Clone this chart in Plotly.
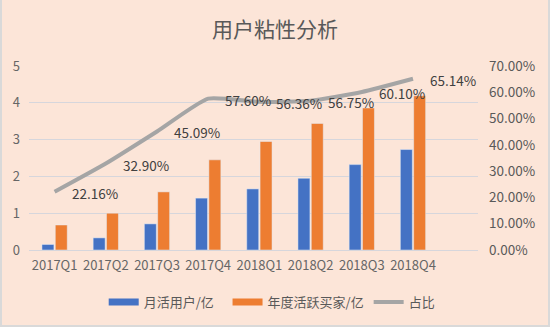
import plotly.graph_objects as go

categories = ["2017Q1", "2017Q2", "2017Q3", "2017Q4", "2018Q1", "2018Q2", "2018Q3", "2018Q4"]
mau = [0.15, 0.33, 0.71, 1.41, 1.66, 1.95, 2.32, 2.73]          # 月活用户/亿
buyers = [0.68, 1.00, 1.58, 2.45, 2.95, 3.44, 3.86, 4.19]       # 年度活跃买家/亿
ratio = [0.2216, 0.3290, 0.4509, 0.5760, 0.5636, 0.5675, 0.6010, 0.6514]  # 占比
ratio_labels = ["22.16%", "32.90%", "45.09%", "57.60%", "56.36%", "56.75%", "60.10%", "65.14%"]
legend_names = ["月活用户/亿", "年度活跃买家/亿", "占比"]

BLUE = "#4472C4"
ORANGE = "#ED7D31"
GRAY = "#A5A5A5"
BG = "#FCE5D8"
FONT = "Noto Sans CJK SC, Noto Sans, sans-serif"
PADS = ["\u00a0\u00a0\u00a0", "", ""]

W, H = 550, 327
L, R, T, B = 29, 72, 66, 77

fig = go.Figure()
fig.add_trace(go.Bar(x=categories, y=mau, name=legend_names[0], marker_color=BLUE,
                     showlegend=False, yaxis="y"))
fig.add_trace(go.Bar(x=categories, y=buyers, name=legend_names[1], marker_color=ORANGE,
                     showlegend=False, yaxis="y"))
fig.add_trace(go.Scatter(x=categories, y=ratio, name=legend_names[2], mode="lines",
                         line=dict(color=GRAY, width=4, shape="spline", smoothing=0.5),
                         showlegend=False, yaxis="y2"))

# data labels for the ratio line
for c, v, t in zip(categories, ratio, ratio_labels):
    fig.add_annotation(x=c, y=v, xref="x", yref="y2", text=t, showarrow=False,
                       xanchor="left", yanchor="middle", xshift=15, yshift=-1,
                       font=dict(size=13.5, color="#404040", family=FONT))

# legend-only entries (wide swatches like the reference)
for nm, col, pad in zip(legend_names, [BLUE, ORANGE, GRAY], PADS):
    fig.add_trace(go.Scatter(x=[None], y=[None], mode="lines", name=nm + pad,
                             line=dict(color=col, width=7 if col != GRAY else 4),
                             yaxis="y", showlegend=True))

pw, ph = W - L - R, H - T - B
fig.add_shape(type="rect", xref="paper", yref="paper",
              x0=-L / pw, x1=(W - L) / pw, y0=-B / ph, y1=(H - T) / ph,
              line=dict(color="#D9D9D9", width=4), fillcolor="rgba(0,0,0,0)", layer="below")

fig.update_layout(
    width=W, height=H,
    margin=dict(l=L, r=R, t=T, b=B),
    paper_bgcolor=BG, plot_bgcolor=BG,
    font=dict(family=FONT, color="#595959", size=13),
    title=dict(text="用户粘性分析", x=0.5, xref="container", xanchor="center",
               y=1 - 30 / H, yanchor="middle", yref="container",
               font=dict(size=21, color="#595959", family=FONT)),
    barmode="group", bargap=0.48, bargroupgap=0.1,
    xaxis=dict(showgrid=False, showline=False, ticks="", tickfont=dict(size=13, color="#666666"),
               ticklabelstandoff=6),
    yaxis=dict(range=[0, 5], dtick=1, showgrid=True, gridcolor="#D6D6DC", gridwidth=1,
               zeroline=True, zerolinecolor="#D6D6DC", zerolinewidth=1,
               tickfont=dict(size=13, color="#666666"), ticks="", ticklabelstandoff=8),
    yaxis2=dict(range=[0, 0.7], dtick=0.1, tickformat=".2%", overlaying="y", side="right",
                showgrid=False, zeroline=False, ticks="",
                tickfont=dict(size=13.5, color="#595959"), ticklabelstandoff=10),
    legend=dict(orientation="h", xref="container", x=0.494, xanchor="center",
                yref="container", y=1 - 302 / H, yanchor="middle",
                font=dict(size=13, color="#595959", family=FONT),
                bgcolor="rgba(0,0,0,0)", itemwidth=30),
)

fig.write_html("out.html")
